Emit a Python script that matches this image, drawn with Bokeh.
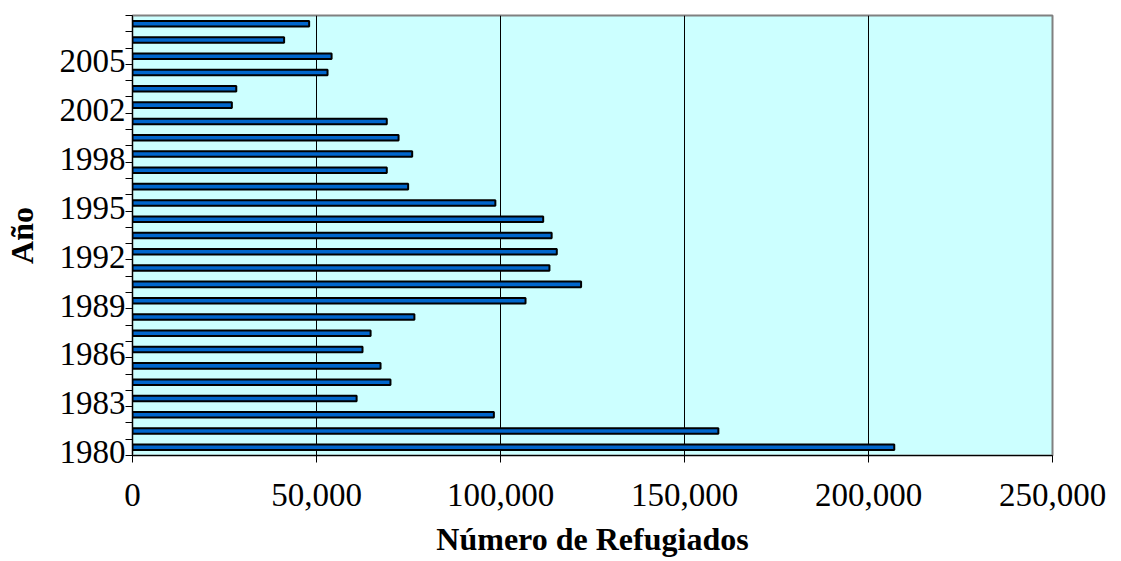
from bokeh.plotting import figure
from bokeh.models import FixedTicker, NumeralTickFormatter, ColumnDataSource
from bokeh.embed import file_html
from bokeh.resources import INLINE

years = ["1980", "1981", "1982", "1983", "1984", "1985", "1986", "1987", "1988",
         "1989", "1990", "1991", "1992", "1993", "1994", "1995", "1996", "1997",
         "1998", "2000", "2001", "2002", "2003", "2004", "2005", "2006", "2007"]
refugiados = [207000, 159200, 98200, 60900, 70100, 67400, 62500, 64700, 76600,
              106800, 121900, 113300, 115300, 113900, 111600, 98600, 74900, 69100,
              76000, 72300, 69100, 27000, 28200, 53000, 54100, 41200, 48000]
label_every = 3
x_ticks = [0, 50000, 100000, 150000, 200000, 250000]

n = len(years)
pos = [i + 0.5 for i in range(n)]
src = ColumnDataSource(dict(y=pos, v=refugiados, year=years))

FONT = "Liberation Serif"

p = figure(frame_width=920, frame_height=440,
           min_border_left=132, min_border_right=60, min_border_top=15, min_border_bottom=90,
           x_range=(0, 250000), y_range=(0, n),
           output_backend="svg", toolbar_location=None,
           background_fill_color="#CCFFFF", border_fill_color="white")

p.hbar(y="y", left=0, right="v", height=0.34, source=src,
       fill_color="#0066CC", line_color="black", line_width=2)

p.outline_line_color = "#808080"
p.outline_line_width = 2

p.ygrid.grid_line_color = None
p.xgrid.ticker = FixedTicker(ticks=x_ticks)
p.xgrid.grid_line_color = "black"
p.xgrid.grid_line_width = 1

# x axis
p.xaxis.ticker = FixedTicker(ticks=x_ticks)
p.xaxis.formatter = NumeralTickFormatter(format="0,0")
p.xaxis.axis_label = "Número de Refugiados"
p.xaxis.axis_label_text_font = FONT
p.xaxis.axis_label_text_font_style = "bold"
p.xaxis.axis_label_text_font_size = "32px"
p.xaxis.axis_label_text_color = "black"
p.xaxis.axis_label_standoff = 12
p.xaxis.major_label_text_font = FONT
p.xaxis.major_label_text_font_size = "33px"
p.xaxis.major_label_text_color = "black"
p.xaxis.major_label_standoff = 21
p.xaxis.major_tick_out = 7
p.xaxis.major_tick_in = 0
p.xaxis.minor_tick_out = 0
p.xaxis.minor_tick_in = 0
p.xaxis.axis_line_color = "black"
p.xaxis.major_tick_line_color = "black"

# y axis: labels every 3rd category, tick marks at category boundaries
label_idx = list(range(0, n, label_every))
label_pos = [i + 0.2 for i in label_idx]
p.yaxis.ticker = FixedTicker(ticks=label_pos, minor_ticks=list(range(0, n + 1)))
p.yaxis.major_label_overrides = {lp: years[i] for lp, i in zip(label_pos, label_idx)}
p.yaxis.major_tick_out = 0
p.yaxis.major_tick_in = 0
p.yaxis.minor_tick_out = 7
p.yaxis.minor_tick_in = 0
p.yaxis.minor_tick_line_color = "black"
p.yaxis.axis_line_color = "black"
p.yaxis.major_label_text_font = FONT
p.yaxis.major_label_text_font_size = "33px"
p.yaxis.major_label_text_color = "black"
p.yaxis.major_label_standoff = 0
p.yaxis.axis_label = "Año"
p.yaxis.axis_label_text_font = FONT
p.yaxis.axis_label_text_font_style = "bold"
p.yaxis.axis_label_text_font_size = "32px"
p.yaxis.axis_label_text_color = "black"
p.yaxis.axis_label_standoff = 17

open("out.html", "w").write(file_html(p, INLINE))
